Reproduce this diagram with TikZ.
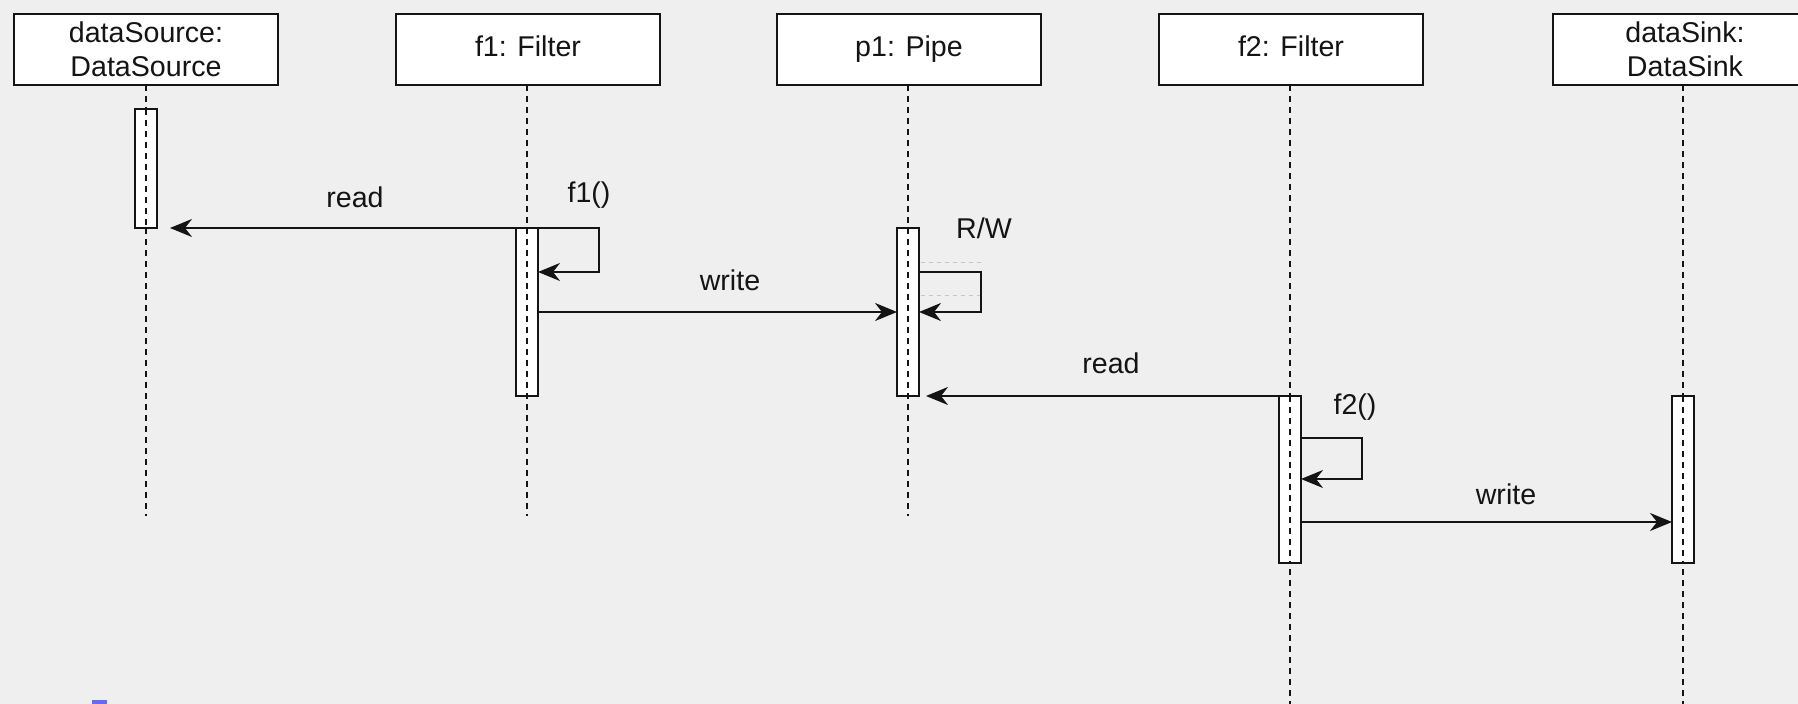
\documentclass[tikz,border=0pt]{standalone}
\usepackage{fontspec}
\setmainfont{Liberation Sans}
\usetikzlibrary{arrows.meta,calc}
\definecolor{bgc}{HTML}{EFEFEF}
\definecolor{ink}{HTML}{141414}
\definecolor{fragblue}{HTML}{6A6AF0}
\tikzset{
  objbox/.style={draw=ink, line width=1.1pt, fill=white, minimum width=132pt, minimum height=35.5pt,
    inner sep=0pt, outer sep=0pt, align=center, font=\fontsize{14.3}{17.2}\selectfont, text=ink},
  oneline/.style={text height=10.4pt, text depth=3.5pt},
  actbox/.style={draw=ink, line width=1pt, fill=white, minimum width=11pt, inner sep=0pt, outer sep=0pt, anchor=north},
  lifeline/.style={draw=ink, line width=1pt, dash pattern=on 3pt off 2.5pt},
  msg/.style={draw=ink, line width=1pt, -{Stealth[length=11pt,width=9pt,inset=3.5pt]}},
  lbl/.style={font=\fontsize{14.3}{16.6}\selectfont, text=ink, inner sep=0pt},
  faint/.style={draw=gray!45, line width=0.4pt, dash pattern=on 2pt off 2pt}
}
\begin{document}
\begin{tikzpicture}[x=0.5pt,y=-0.5pt]
\fill[bgc] (0,0) rectangle (1798,704);
\useasboundingbox (0,0) rectangle (1798,704);
% object boxes
\node[objbox] (ds) at (146,49.5) {dataSource:\\DataSource};
\node[objbox, oneline] (f1) at (528,49.5) {f1: Filter};
\node[objbox, oneline] (p1) at (909,49.5) {p1: Pipe};
\node[objbox, oneline] (f2) at (1291,49.5) {f2: Filter};
\node[objbox] (dk) at (1685,49.5) {dataSink:\\DataSink};
% lifeline ends
\coordinate (dsend) at (146,516);
\coordinate (f1end) at (527,516);
\coordinate (p1end) at (908,516);
\coordinate (f2end) at (1290,704);
\coordinate (dkend) at (1683,704);
\draw[lifeline] (ds.south -| dsend) -- (dsend);
\draw[lifeline] (f1.south -| f1end) -- (f1end);
\draw[lifeline] (p1.south -| p1end) -- (p1end);
\draw[lifeline] (f2.south -| f2end) -- (f2end);
\draw[lifeline] (dk.south -| dkend) -- (dkend);
% activations
\node[actbox, minimum height=59.5pt] (a1) at (146,109) {};
\node[actbox, minimum height=84pt] (a2) at (527,228) {};
\node[actbox, minimum height=84pt] (a3) at (908,228) {};
\node[actbox, minimum height=83.5pt] (a4) at (1290,396) {};
\node[actbox, minimum height=83.5pt] (a5) at (1683,396) {};
% dashed lines inside activations
\draw[lifeline] (a1.north) -- (a1.south);
\draw[lifeline] (a2.north) -- (a2.south);
\draw[lifeline] (a3.north) -- (a3.south);
\draw[lifeline] (a4.north) -- (a4.south);
\draw[lifeline] (a5.north) -- (a5.south);
% messages
\draw[msg] (a2.north west) -- ($(a1.south east)+(13,0)$);
\node[lbl] (l1) at (355,197) {read};
\draw[msg] (a2.north east) -- ++(61,0) |- ($(a2.north east)+(0,44)$);
\node[lbl] (l2) at (589,195) {f1()};
\draw[msg] ($(a2.north east)+(0,84)$) -- ($(a3.north west)+(0,84)$);
\node[lbl] (l3) at (730,280) {write};
% faint artefacts inside R/W loop
\draw[faint] ($(a3.north east)+(2,34)$) -- ++(60,0);
\draw[faint] ($(a3.north east)+(2,67)$) -- ++(60,0);
\draw[msg] ($(a3.north east)+(0,44)$) -- ++(62,0) |- ($(a3.north east)+(0,84)$);
\node[lbl] (l4) at (984,228) {R/W};
\draw[msg] (a4.north west) -- ($(a3.south east)+(7,0)$);
\node[lbl] (l5) at (1111,363) {read};
\draw[msg] ($(a4.north east)+(0,42)$) -- ++(61,0) |- ($(a4.north east)+(0,83)$);
\node[lbl] (l6) at (1355,407) {f2()};
\draw[msg] ($(a4.north east)+(0,126)$) -- ($(a5.north west)+(0,126)$);
\node[lbl] (l7) at (1506,494) {write};
% cut-off blue fragment at bottom edge
\fill[fragblue] (92,700) rectangle (107,704);
\end{tikzpicture}
\end{document}
